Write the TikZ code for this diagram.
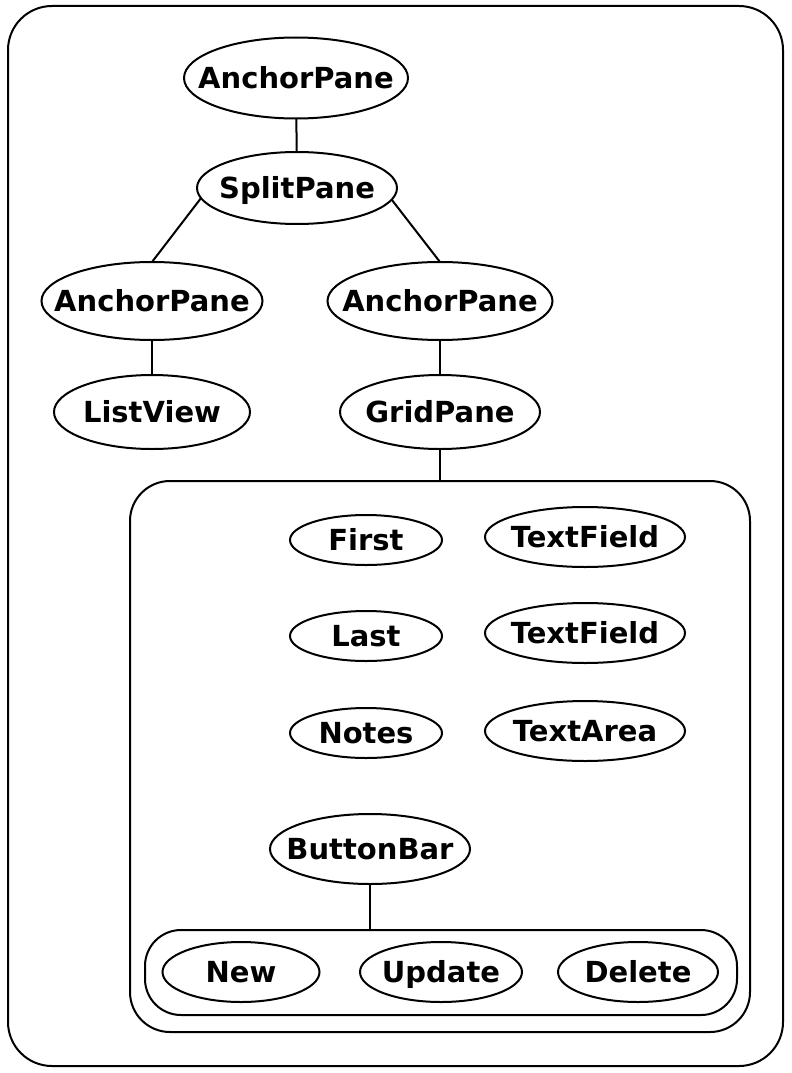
\documentclass[tikz,border=0pt]{standalone}
\usepackage{fontspec}
\setmainfont{DejaVu Sans}
\usetikzlibrary{shapes.geometric}
\newcommand{\eltext}[1]{\makebox[0pt]{\raisebox{-10.5pt}[0pt][0pt]{#1}}}
\begin{document}
\begin{tikzpicture}[x=1pt,y=-1pt,
  every path/.style={line width=2pt},
  el/.style={draw, ellipse, inner sep=0pt, outer sep=0pt, line width=2pt, text height=0pt, text depth=0pt,
    font=\fontsize{29}{34}\selectfont\bfseries},
  box/.style={draw, rectangle, line width=2pt, inner sep=0pt}]
\useasboundingbox (0,0) rectangle (792,1073);
\node[box, rounded corners=44pt, minimum width=775pt, minimum height=1060pt] (outer) at (395.5,536) {};
\node[box, rounded corners=40pt, minimum width=620pt, minimum height=551pt] (inner) at (440,756.5) {};
\node[box, rounded corners=36pt, minimum width=592pt, minimum height=85pt] (bbox) at (441,972.5) {};

\node[el, minimum width=224pt, minimum height=81pt] (root) at (296,78) {\eltext{AnchorPane}};
\node[el, minimum width=200pt, minimum height=72pt] (split) at (297,188) {\eltext{SplitPane}};
\node[el, minimum width=221pt, minimum height=78pt] (apl) at (152,301) {\eltext{AnchorPane}};
\node[el, minimum width=225pt, minimum height=78pt] (apr) at (440,301) {\eltext{AnchorPane}};
\node[el, minimum width=196pt, minimum height=74pt] (list) at (152,412) {\eltext{ListView}};
\node[el, minimum width=200pt, minimum height=74pt] (grid) at (440,412) {\eltext{GridPane}};

\node[el, minimum width=152pt, minimum height=50pt] (first) at (366,540) {\eltext{First}};
\node[el, minimum width=200pt, minimum height=60pt] (tf1) at (585,537) {\eltext{TextField}};
\node[el, minimum width=152pt, minimum height=50pt] (last) at (366,636) {\eltext{Last}};
\node[el, minimum width=200pt, minimum height=60pt] (tf2) at (585,633) {\eltext{TextField}};
\node[el, minimum width=152pt, minimum height=50pt] (notes) at (366,733) {\eltext{Notes}};
\node[el, minimum width=200pt, minimum height=60pt] (ta) at (585,731) {\eltext{TextArea}};

\node[el, minimum width=200pt, minimum height=70pt] (bar) at (370,849) {\eltext{ButtonBar}};
\node[el, minimum width=157pt, minimum height=60pt] (new) at (241,972) {\eltext{New}};
\node[el, minimum width=162pt, minimum height=60pt] (upd) at (441,972) {\eltext{Update}};
\node[el, minimum width=160pt, minimum height=60pt] (del) at (638,972) {\eltext{Delete}};

\draw (root) -- (split);
\draw (split.186) -- (apl.north);
\draw (split.353) -- (apr.north);
\draw (apl) -- (list);
\draw (apr) -- (grid);
\draw (grid.south) -- (grid.south |- inner.north);
\draw (bar.south) -- (bar.south |- bbox.north);
\end{tikzpicture}
\end{document}
